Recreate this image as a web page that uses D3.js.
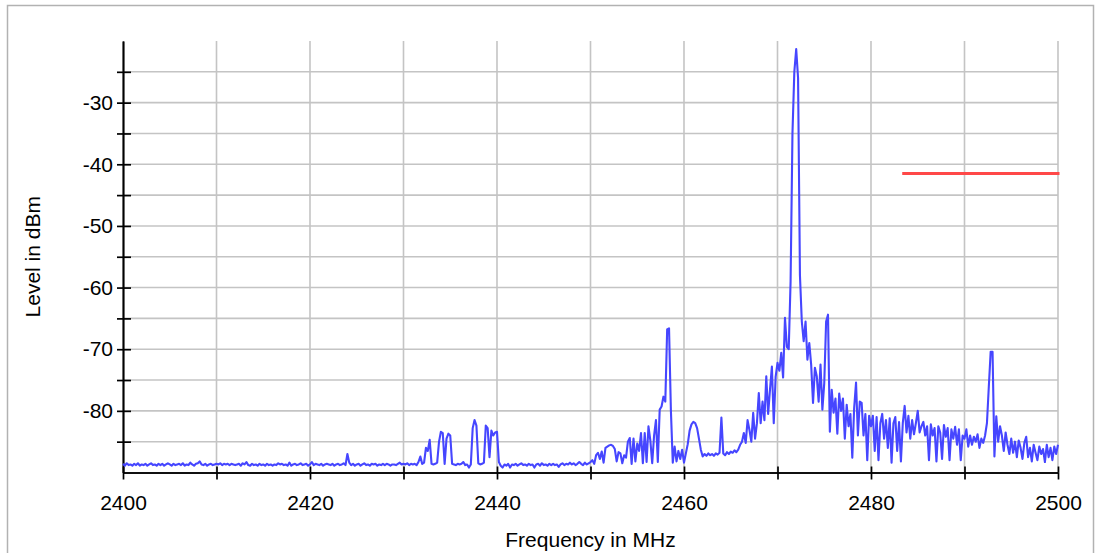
<!DOCTYPE html>
<html><head><meta charset="utf-8">
<script src="https://cdn.jsdelivr.net/npm/d3@7"></script>
<style>html,body{margin:0;padding:0;background:#fff;} svg{display:block;}</style>
</head><body><svg id="chart" width="1095" height="553"></svg>
<script>
// Spectrum sweep: 2400 MHz to 2500 MHz, one reading every 0.2 MHz (dBm)
const freqStart = 2400, freqStep = 0.2;
const levels = [
-88.6,-88.9,-88.5,-88.8,-88.7, -88.9,-88.6,-88.8,-88.5,-88.9,
-88.7,-88.8,-88.6,-88.9,-88.7, -88.5,-88.8,-88.7,-88.9,-88.6,
-88.8,-88.6,-88.9,-88.7,-88.5, -88.7,-88.9,-88.6,-88.8,-88.7,
-88.6,-88.8,-88.5,-88.9,-88.7, -88.8,-88.4,-88.7,-88.9,-88.6,
-88.5,-88.2,-88.7,-88.8,-88.6, -88.9,-88.7,-88.6,-88.8,-88.7,
-88.6,-88.7,-88.5,-88.8,-88.6, -88.7,-88.6,-88.8,-88.6,-88.7,
-88.8,-88.7,-88.6,-88.9,-88.5, -88.7,-88.3,-88.8,-88.9,-88.6,
-88.8,-88.7,-88.9,-88.6,-88.8, -88.7,-88.9,-88.6,-88.8,-88.7,
-88.9,-88.7,-88.8,-88.5,-88.7, -88.6,-88.8,-88.7,-88.9,-88.4,
-88.9,-88.7,-88.6,-88.8,-88.7, -88.5,-88.8,-88.7,-88.6,-88.9,
-88.7,-88.3,-88.8,-88.6,-88.7, -88.8,-88.6,-88.9,-88.7,-88.6,
-88.7,-88.8,-88.6,-88.9,-88.7, -88.6,-88.8,-88.7,-88.5,-88.8,
-87.0,-88.4,-88.8,-88.6,-88.9, -88.7,-88.6,-88.9,-88.7,-88.5,
-88.8,-88.7,-88.9,-88.6,-88.7, -88.6,-88.9,-88.7,-88.8,-88.6,
-88.8,-88.6,-88.7,-88.9,-88.7, -88.7,-88.8,-88.6,-88.4,-88.7,
-88.6,-88.7,-88.5,-88.8,-88.6, -88.7,-88.6,-88.8,-88.3,-87.4,
-88.6,-88.4,-86.0,-86.5,-84.7, -88.6,-88.7,-88.6,-88.4,-85.0,
-83.4,-83.6,-88.6,-84.5,-83.7, -84.0,-88.6,-88.7,-88.8,-88.6,
-88.7,-88.6,-88.3,-88.8,-88.7, -89.2,-88.7,-82.8,-81.5,-82.4,
-88.5,-88.7,-88.6,-88.4,-82.4, -82.8,-87.5,-83.2,-84.0,-83.5,
-83.4,-88.3,-88.9,-89.2,-88.7, -88.9,-88.6,-89.2,-88.7,-88.8,
-88.6,-88.9,-88.7,-88.5,-88.8, -88.7,-88.9,-88.6,-88.8,-88.7,
-89.2,-88.7,-88.6,-88.9,-88.5, -88.8,-88.7,-88.9,-88.6,-88.8,
-88.6,-88.8,-88.7,-89.1,-88.7, -88.5,-88.8,-88.6,-88.7,-88.4,
-88.7,-88.5,-88.8,-88.6,-88.3, -88.6,-88.8,-88.4,-88.7,-88.5,
-88.3,-88.0,-88.6,-87.2,-86.8, -87.8,-86.6,-88.4,-86.0,-85.8,
-85.6,-85.5,-85.7,-86.2,-88.2, -86.7,-86.9,-88.5,-87.2,-87.6,
-85.0,-84.4,-88.6,-84.5,-88.2, -85.3,-86.5,-83.6,-88.5,-83.6,
-88.3,-82.5,-84.8,-88.5,-84.0, -81.5,-88.3,-79.8,-79.3,-77.7,
-78.5,-66.8,-66.6,-80.0,-88.4, -85.8,-88.2,-86.5,-87.8,-86.3,
-88.4,-86.9,-85.4,-83.2,-82.2, -81.8,-82.0,-82.8,-84.5,-86.3,
-87.4,-87.0,-87.3,-86.9,-87.2, -87.0,-87.3,-86.9,-87.1,-86.8,
-81.1,-86.9,-87.2,-86.7,-87.0, -86.6,-86.8,-86.4,-86.7,-86.3,
-85.5,-85.0,-83.6,-85.2,-81.5, -83.1,-85.0,-80.3,-84.5,-82.0,
-77.1,-82.0,-78.5,-81.5,-74.4, -80.5,-76.5,-72.8,-82.0,-74.5,
-72.2,-73.5,-70.6,-74.6,-64.9, -69.6,-70.0,-59.0,-35.0,-25.0,
-21.3,-26.0,-58.0,-65.5,-68.7, -65.5,-71.7,-69.0,-72.5,-78.7,
-73.0,-74.4,-78.5,-72.5,-79.8, -75.5,-65.5,-64.4,-83.4,-76.6,
-80.3,-78.0,-83.7,-77.2,-80.0, -78.0,-84.5,-79.0,-82.5,-80.5,
-87.6,-79.5,-75.4,-84.0,-78.5, -78.7,-84.0,-80.5,-88.0,-80.8,
-82.5,-80.8,-86.5,-81.0,-88.0, -82.0,-80.5,-84.5,-81.5,-86.0,
-81.2,-88.4,-82.0,-81.0,-86.5, -81.8,-88.2,-82.0,-79.2,-83.5,
-80.8,-84.5,-81.5,-83.8,-82.0, -80.0,-83.5,-82.5,-81.8,-84.0,
-82.5,-88.0,-82.2,-84.0,-82.8, -88.2,-82.5,-83.5,-87.8,-82.3,
-84.2,-82.8,-88.0,-83.0,-84.5, -82.6,-85.5,-83.0,-88.0,-84.0,
-84.5,-83.0,-85.8,-84.0,-85.5, -84.2,-85.0,-83.8,-86.0,-84.5,
-85.2,-84.0,-82.0,-76.1,-70.4, -70.4,-87.4,-80.9,-85.0,-82.5,
-84.0,-86.5,-83.5,-85.5,-87.0, -84.5,-86.8,-85.0,-87.5,-84.8,
-86.0,-87.8,-85.2,-84.2,-87.5, -86.0,-88.2,-85.5,-86.8,-88.0,
-85.8,-87.0,-86.2,-88.3,-85.5, -87.5,-86.0,-88.0,-85.8,-87.0,
-85.5
];
const freqs = levels.map((_, i) => freqStart + i * freqStep);

// Limit line (red)
const limitFreqs = [2483.5, 2500];
const limitLevels = [-41.5, -41.5];

// Axes
const xDomain = [2400, 2500];
const yDomain = [-90, -20];
const xTicks = [2400, 2410, 2420, 2430, 2440, 2450, 2460, 2470, 2480, 2490, 2500];
const xLabels = [2400, 2420, 2440, 2460, 2480, 2500];
const yTicks = [-85, -80, -75, -70, -65, -60, -55, -50, -45, -40, -35, -30, -25];
const yLabels = [-80, -70, -60, -50, -40, -30];
const xTitle = "Frequency in MHz";
const yTitle = "Level in dBm";

const svg = d3.select("#chart");
const font = "'Liberation Sans', Arial, sans-serif";
const L = 123, R = 1058, T = 41, B = 472.5;
const x = d3.scaleLinear().domain(xDomain).range([L, R]);
const y = d3.scaleLinear().domain(yDomain).range([B, T]);

// outer frame
svg.append("rect").attr("x", 7.5).attr("y", 5.5).attr("width", 1086).attr("height", 600)
  .attr("fill", "none").attr("stroke", "#b2b2b2").attr("stroke-width", 1.5);

// grid
const grid = svg.append("g").attr("stroke", "#c4c4c4").attr("stroke-width", 1.6);
grid.selectAll("line.h").data(yTicks).join("line").attr("class", "h")
  .attr("x1", L).attr("x2", R).attr("y1", d => y(d)).attr("y2", d => y(d));
grid.selectAll("line.v").data(xTicks.filter(d => d !== xDomain[0])).join("line").attr("class", "v")
  .attr("y1", T).attr("y2", B).attr("x1", d => x(d)).attr("x2", d => x(d));

// axes
function styleAxis(g) {
  g.selectAll("path.domain").attr("stroke", "#000").attr("stroke-width", 1.7);
  g.selectAll(".tick line").attr("stroke", "#000").attr("stroke-width", 1.7);
  g.selectAll(".tick text").attr("fill", "#000").style("font-family", font).style("font-size", "21px");
}
const yAxisG = svg.append("g").attr("transform", `translate(${L},0)`)
  .call(d3.axisLeft(y).tickValues(yTicks).tickSize(6).tickSizeOuter(0).tickPadding(4)
    .tickFormat(d => yLabels.includes(d) ? String(d) : ""));
styleAxis(yAxisG);
const yAxisG2 = svg.append("g").attr("transform", `translate(${L},0)`)
  .call(d3.axisLeft(y).tickValues(yTicks).tickSize(-8).tickSizeOuter(0).tickFormat(""));
styleAxis(yAxisG2);

const xAxisG = svg.append("g").attr("transform", `translate(0,${B})`)
  .call(d3.axisBottom(x).tickValues(xTicks).tickSize(7).tickSizeOuter(0).tickPadding(16)
    .tickFormat(d => xLabels.includes(d) ? String(d) : ""));
styleAxis(xAxisG);
const xAxisG2 = svg.append("g").attr("transform", `translate(0,${B})`)
  .call(d3.axisBottom(x).tickValues(xTicks).tickSize(-6).tickSizeOuter(0).tickFormat(""));
styleAxis(xAxisG2);

// titles
svg.append("text").attr("x", (L + R) / 2).attr("y", 547).attr("text-anchor", "middle")
  .style("font-family", font).style("font-size", "21px").attr("fill", "#000").text(xTitle);
svg.append("text").attr("transform", `translate(40,${(T + B) / 2}) rotate(-90)`).attr("text-anchor", "middle")
  .style("font-family", font).style("font-size", "21px").attr("fill", "#000").text(yTitle);

// spectrum trace
const line = d3.line().x((d, i) => x(freqs[i])).y(d => y(d));
svg.append("path").datum(levels).attr("d", line)
  .attr("fill", "none").attr("stroke", "#4646ff").attr("stroke-width", 2.1).attr("stroke-linejoin", "round");

// limit line
svg.append("path").datum(limitLevels)
  .attr("d", d3.line().x((d, i) => x(limitFreqs[i])).y(d => y(d)))
  .attr("fill", "none").attr("stroke", "#ff4848").attr("stroke-width", 3).attr("stroke-linecap", "square");
</script>
</body></html>
